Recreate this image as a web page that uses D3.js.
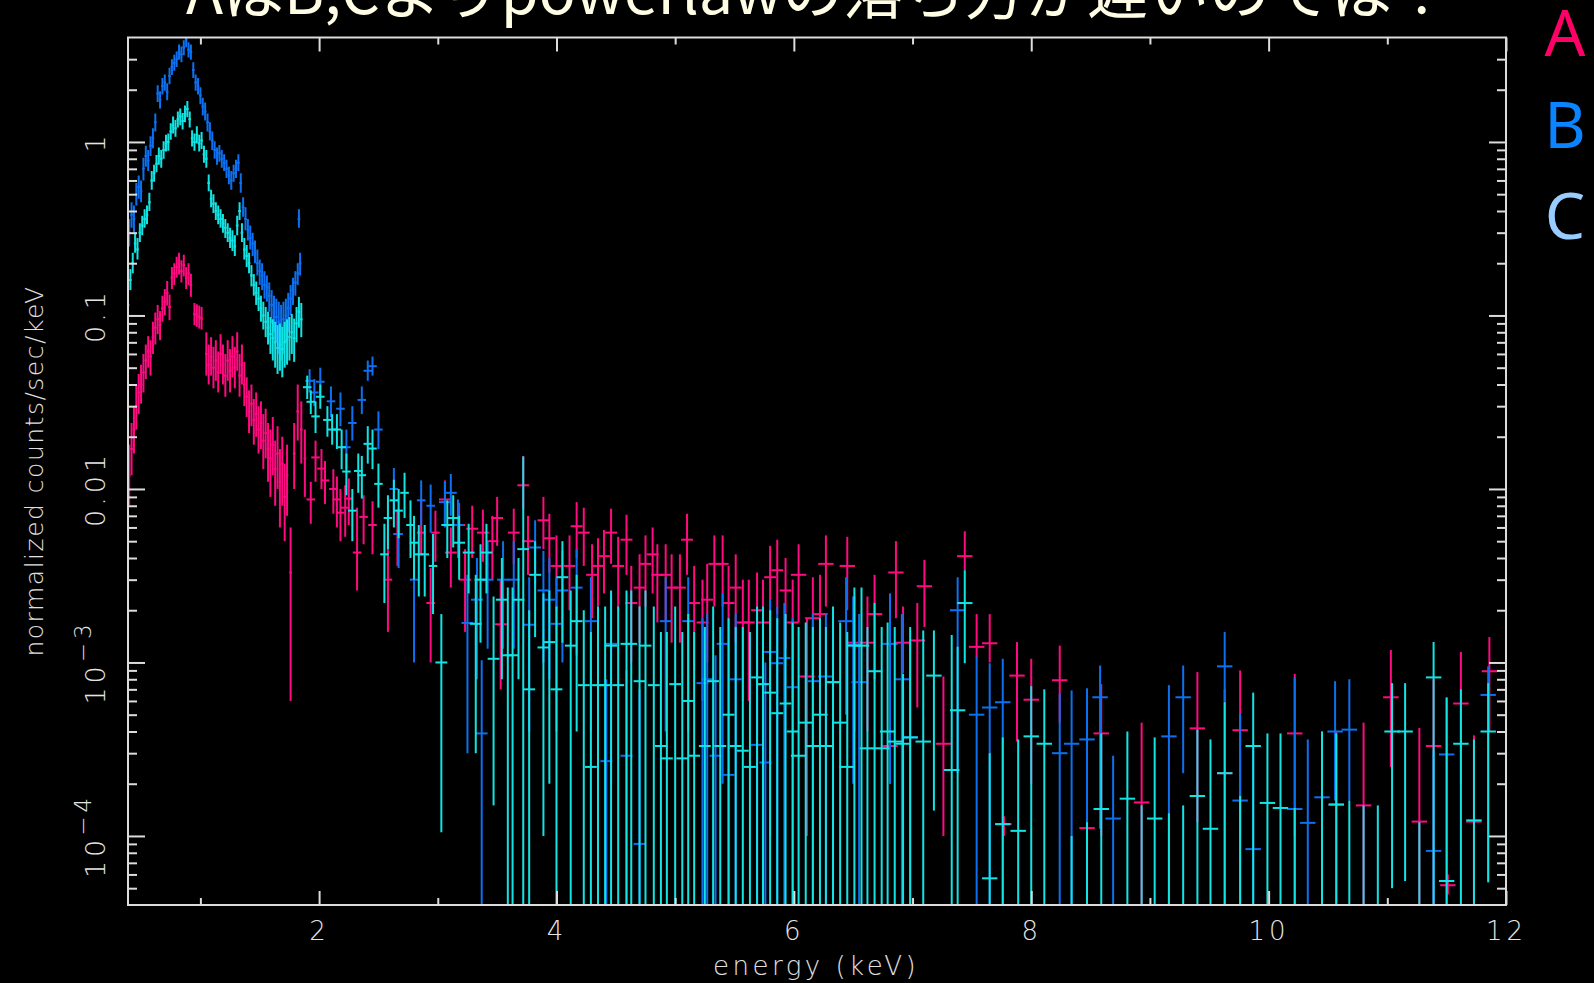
<!DOCTYPE html>
<meta charset="utf-8">
<style>
body { margin: 0; background: #000; }
svg { display: block; }
.axis text, .label { font-family: 'DejaVu Sans', 'Liberation Sans', sans-serif; font-weight: 200; }
</style>
<svg width="1594" height="983"></svg>
<script src="https://d3js.org/d3.v7.min.js"></script>
<script>

// spectra: [energy keV, normalized counts/s/keV, error low, error high]  (low 0 = bar runs off the bottom)
var seriesA = [
  [0.40,0.012,0.008,0.018],[0.42,0.017,0.012,0.024],[0.44,0.022,0.016,0.030],[0.46,0.030,0.022,0.040],
  [0.48,0.036,0.027,0.046],[0.50,0.040,0.031,0.052],[0.52,0.047,0.036,0.060],[0.54,0.055,0.043,0.068],
  [0.56,0.062,0.050,0.076],[0.58,0.058,0.045,0.072],[0.60,0.075,0.060,0.092],[0.62,0.085,0.068,0.104],
  [0.64,0.095,0.078,0.115],[0.66,0.088,0.072,0.106],[0.68,0.110,0.092,0.130],[0.70,0.120,0.100,0.142],
  [0.72,0.135,0.114,0.158],[0.74,0.112,0.094,0.132],[0.76,0.165,0.142,0.190],[0.78,0.175,0.150,0.200],
  [0.80,0.190,0.165,0.218],[0.82,0.200,0.172,0.230],[0.84,0.180,0.155,0.208],[0.86,0.195,0.168,0.224],
  [0.88,0.165,0.142,0.190],[0.90,0.175,0.150,0.200],[0.92,0.150,0.128,0.174],[0.95,0.102,0.088,0.118],
  [0.97,0.100,0.086,0.116],[0.99,0.098,0.084,0.114],[1.01,0.096,0.083,0.112],[1.05,0.060,0.045,0.080],
  [1.07,0.052,0.040,0.068],[1.09,0.058,0.045,0.075],[1.11,0.050,0.038,0.066],[1.13,0.055,0.042,0.072],
  [1.15,0.047,0.036,0.062],[1.17,0.060,0.046,0.078],[1.19,0.052,0.040,0.068],[1.21,0.045,0.034,0.060],
  [1.23,0.055,0.042,0.072],[1.25,0.048,0.036,0.064],[1.27,0.058,0.044,0.076],[1.29,0.050,0.038,0.066],
  [1.31,0.062,0.048,0.080],[1.33,0.045,0.034,0.060],[1.35,0.052,0.040,0.068],[1.37,0.040,0.030,0.054],
  [1.39,0.034,0.026,0.044],[1.41,0.028,0.021,0.037],[1.43,0.031,0.023,0.040],[1.45,0.025,0.018,0.033],
  [1.47,0.027,0.020,0.036],[1.49,0.022,0.016,0.030],[1.51,0.024,0.017,0.032],[1.53,0.019,0.013,0.027],
  [1.55,0.021,0.015,0.029],[1.57,0.017,0.011,0.024],[1.59,0.015,0.009,0.022],[1.61,0.018,0.012,0.026],
  [1.63,0.013,0.008,0.019],[1.65,0.016,0.010,0.023],[1.67,0.011,0.006,0.017],[1.69,0.014,0.008,0.020],
  [1.71,0.009,0.005,0.014],[1.73,0.012,0.007,0.018],[1.76,0.0033,0.0006,0.006],[1.79,0.016,0.010,0.024],
  [1.82,0.028,0.019,0.040],[1.85,0.022,0.014,0.032],[1.88,0.015,0.009,0.022],
  [1.93,0.0087,0.0063,0.011],[1.97,0.0152,0.011,0.019],[2.02,0.0131,0.010,0.017],[2.05,0.0112,0.0082,0.0145],
  [2.12,0.0100,0.0072,0.013],[2.15,0.0087,0.0060,0.0118],[2.18,0.0073,0.0050,0.010],[2.22,0.0078,0.0053,0.0105],
  [2.25,0.0088,0.0062,0.0115],[2.32,0.0043,0.0026,0.0078],[2.375,0.0069,0.0048,0.0092],[2.45,0.0062,0.0042,0.0085],
  [2.58,0.0030,0.0015,0.0054],[2.66,0.0055,0.0036,0.0076],[2.86,0.0056,0.0042,0.0088],[2.94,0.0022,0.0010,0.0035],
  [2.98,0.0056,0.0038,0.0075],[3.06,0.0087,0.0064,0.0112],[3.11,0.0043,0.0027,0.0060],[3.18,0.0062,0.0042,0.0083],
  [3.23,0.0030,0.0015,0.0045],[3.29,0.0059,0.0040,0.0080],[3.38,0.0056,0.0038,0.0076],[3.46,0.0050,0.0030,0.0070],
  [3.50,0.0068,0.0047,0.0090],[3.53,0.00166,0.0007,0.0030],[3.64,0.0056,0.0037,0.0077],[3.72,0.0105,0.0076,0.0155],
  [3.76,0.0050,0.0032,0.0070],[3.89,0.0066,0.0045,0.0090],[3.94,0.0052,0.0033,0.0072],[4.00,0.0036,0.0020,0.0054],
  [4.11,0.0036,0.0020,0.0054],[4.17,0.0061,0.0040,0.0084],[4.23,0.0056,0.0036,0.0078],[4.30,0.0032,0.0018,0.0048],
  [4.35,0.0036,0.0021,0.0052],[4.40,0.0041,0.0025,0.0058],[4.46,0.0056,0.0037,0.0077],[4.52,0.0036,0.0020,0.0053],
  [4.59,0.0051,0.0032,0.0071],[4.63,0.0022,0.0010,0.0036],[4.70,0.0027,0.0013,0.0042],[4.75,0.0037,0.0021,0.0054],
  [4.81,0.0042,0.0025,0.0060],[4.85,0.0032,0.0017,0.0048],[4.92,0.0032,0.0017,0.0048],[4.97,0.0027,0.0013,0.0042],
  [5.04,0.0027,0.0013,0.0042],[5.10,0.0051,0.0032,0.0072],[5.16,0.0022,0.0009,0.0036],[5.23,0.0017,0.0006,0.0030],
  [5.27,0.0023,0.0010,0.0037],[5.33,0.0037,0.0021,0.0054],[5.40,0.0037,0.0021,0.0054],[5.45,0.0022,0.0009,0.0036],
  [5.51,0.0027,0.0013,0.0042],[5.57,0.0017,0.0006,0.0030],[5.62,0.0017,0.0006,0.0030],[5.69,0.0020,0.0008,0.0033],
  [5.74,0.0017,0.0006,0.0030],[5.80,0.0031,0.0016,0.0047],[5.86,0.0034,0.0019,0.0051],[5.93,0.0026,0.0012,0.0040],
  [5.99,0.0017,0.0006,0.0030],[6.04,0.0032,0.0017,0.0048],[6.11,0.00083,0.0001,0.0018],[6.16,0.0018,0.0007,0.0031],
  [6.22,0.0019,0.0008,0.0032],[6.27,0.0037,0.0021,0.0054],[6.45,0.0036,0.0020,0.0053],[6.51,0.0013,0.0004,0.0024],
  [6.62,0.0013,0.0004,0.0024],[6.68,0.0019,0.0008,0.0032],[6.81,0.00033,0.0002,0.00045],[6.86,0.0033,0.0018,0.0050],
  [6.92,0.0013,0.00087,0.0021],[7.04,0.00134,0.00055,0.0022],[7.10,0.00275,0.0016,0.0039],[7.26,0.00034,0.0001,0.00083],
  [7.44,0.0041,0.0034,0.0057],[7.54,0.00123,0.00107,0.0019],[7.65,0.00129,0.0010,0.0019],[7.77,0.000117,0.0001,0.00013],
  [7.88,0.00084,0.00035,0.00131],[8.00,0.00061,0.0002,0.00105],[8.24,0.00079,0.00045,0.00125],[8.47,0.000111,0.00008,0.00014],
  [8.59,0.00039,0.0001,0.00075],[8.93,0.000156,0,0.00045],[9.40,0.000417,0.00012,0.00088],[9.63,0.00023,0,0.0007],
  [9.76,0.000407,0.0001,0.0009],[10.22,0.00039,0.0001,0.00086],[10.57,0.000151,0,0.0004],[10.80,0.00015,0,0.00045],
  [11.03,0.00063,0.00025,0.00118],[11.27,0.000121,0,0.00042],[11.39,0.00033,0,0.0008],[11.51,0.000052,0.000046,0.00006],
  [11.62,0.00058,0.0002,0.00115],[11.73,0.000121,0,0.00038],[11.86,0.00089,0.0004,0.0014]
];

var seriesB = [
  [0.40,0.30,0.25,0.36],[0.42,0.38,0.32,0.45],[0.44,0.36,0.30,0.43],[0.46,0.50,0.43,0.58],
  [0.48,0.55,0.47,0.64],[0.50,0.52,0.45,0.60],[0.52,0.70,0.60,0.81],[0.54,0.83,0.72,0.95],
  [0.56,0.78,0.68,0.90],[0.58,0.95,0.83,1.08],[0.60,1.05,0.92,1.20],[0.62,1.30,1.15,1.46],
  [0.64,1.90,1.70,2.12],[0.66,1.75,1.56,1.96],[0.68,2.10,1.88,2.34],[0.70,2.20,1.97,2.45],
  [0.72,1.95,1.74,2.18],[0.74,2.40,2.15,2.68],[0.76,2.70,2.43,3.00],[0.78,2.86,2.57,3.18],
  [0.80,3.00,2.70,3.32],[0.82,3.30,2.98,3.65],[0.84,3.20,2.88,3.55],[0.86,3.50,3.16,3.86],
  [0.88,3.90,3.52,4.30],[0.90,3.40,3.07,3.75],[0.92,3.30,2.98,3.65],[0.94,2.60,2.34,2.88],
  [0.96,2.20,1.97,2.45],[0.98,2.10,1.88,2.34],[1.00,1.85,1.65,2.07],[1.02,1.60,1.42,1.80],
  [1.04,1.50,1.33,1.69],[1.06,1.30,1.15,1.46],[1.08,1.15,1.02,1.30],[1.10,1.02,0.90,1.15],
  [1.12,0.90,0.80,1.01],[1.14,0.83,0.74,0.93],[1.16,0.86,0.77,0.96],[1.18,0.80,0.71,0.90],
  [1.20,0.76,0.68,0.85],[1.22,0.70,0.62,0.79],[1.24,0.64,0.57,0.72],[1.26,0.60,0.53,0.68],
  [1.28,0.66,0.59,0.74],[1.30,0.70,0.62,0.79],[1.32,0.76,0.68,0.85],[1.34,0.58,0.51,0.66],
  [1.36,0.42,0.37,0.48],[1.38,0.36,0.31,0.42],[1.40,0.31,0.27,0.36],[1.42,0.28,0.24,0.33],
  [1.44,0.26,0.22,0.30],[1.46,0.23,0.20,0.27],[1.48,0.20,0.17,0.24],[1.50,0.18,0.15,0.21],
  [1.52,0.17,0.14,0.20],[1.54,0.15,0.125,0.18],[1.56,0.145,0.12,0.17],[1.58,0.13,0.105,0.155],
  [1.60,0.115,0.09,0.14],[1.62,0.105,0.08,0.13],[1.64,0.098,0.07,0.125],[1.66,0.092,0.06,0.12],
  [1.68,0.088,0.055,0.115],[1.70,0.095,0.06,0.12],[1.72,0.100,0.07,0.125],[1.74,0.110,0.08,0.135],
  [1.76,0.125,0.10,0.15],[1.78,0.140,0.115,0.165],[1.80,0.155,0.13,0.18],[1.82,0.175,0.15,0.20],
  [1.83,0.36,0.32,0.41],[1.84,0.20,0.17,0.23],[1.92,0.042,0.036,0.049],[1.96,0.036,0.030,0.043],
  [2.01,0.0415,0.034,0.050],[2.10,0.032,0.026,0.039],[2.18,0.029,0.023,0.036],[2.23,0.0174,0.013,0.022],
  [2.28,0.024,0.019,0.030],[2.36,0.0326,0.027,0.039],[2.41,0.048,0.042,0.055],[2.45,0.051,0.045,0.058],
  [2.50,0.022,0.017,0.028],[2.63,0.010,0.0072,0.0132],[2.67,0.0055,0.0035,0.0077],[2.80,0.0030,0.0010,0.0052],
  [2.86,0.0086,0.0062,0.0112],[2.94,0.0080,0.0056,0.0106],[3.06,0.0084,0.0060,0.011],[3.11,0.0095,0.0070,0.0122],
  [3.17,0.0062,0.0040,0.0087],[3.25,0.00169,0.0003,0.0032],[3.33,0.0023,0.0008,0.0040],[3.37,0.00039,0,0.00103],
  [3.42,0.0030,0.0012,0.0050],[3.55,0.0030,0.0012,0.0050],[3.64,0.0030,0.0012,0.0050],[3.77,0.00165,0.0004,0.0031],
  [3.82,0.0046,0.0028,0.0066],[3.89,0.0026,0.0010,0.0044],[3.94,0.0023,0.0008,0.0040],[4.00,0.00167,0.0004,0.0031],
  [4.05,0.0026,0.0010,0.0044],[4.17,0.0027,0.0011,0.0045],[4.29,0.00173,0.0004,0.0031],[4.42,0.00027,0,0.0008],
  [4.46,0.00128,0.0002,0.0025],[4.59,0.00029,0,0.0009],[4.70,0.00009,0,0.0007],[4.92,0.00173,0.0004,0.0031],
  [5.11,0.00173,0.0004,0.0031],[5.23,0.00076,0,0.0018],[5.27,0.00080,0,0.0019],[5.34,0.00029,0,0.0011],
  [5.40,0.00128,0.0002,0.0025],[5.45,0.000225,0,0.0009],[5.51,0.00080,0,0.0019],[5.69,0.000335,0,0.0012],
  [5.76,0.000265,0,0.0010],[5.80,0.00115,0.0001,0.0023],[5.86,0.00099,0,0.0021],[5.92,0.00106,0,0.0022],
  [5.99,0.00072,0,0.0018],[6.16,0.00078,0,0.0019],[6.27,0.00083,0,0.0019],[6.33,0.00077,0,0.0019],
  [6.44,0.00173,0.0005,0.0031],[6.50,0.00126,0.0002,0.0024],[6.55,0.00077,0,0.0019],[6.81,0.00128,0.0002,0.0025],
  [6.91,0.00080,0,0.0019],[6.98,0.00037,0,0.0013],[7.38,0.0020,0.00023,0.0031],[7.54,0.00050,0,0.00108],
  [7.65,0.00055,0,0.00099],[7.76,0.00059,0,0.00105],[8.24,0.00030,0.00004,0.00066],[8.34,0.00034,0,0.00069],
  [8.47,0.00036,0,0.00071],[8.58,0.00063,0.00011,0.00096],[8.69,0.000126,0,0.00029],[9.16,0.000375,0,0.00074],
  [9.28,0.00063,0.00023,0.00096],[9.63,0.00095,0.00060,0.0015],[9.76,0.00016,0,0.00051],[9.87,0.000084,0,0.000325],
  [10.22,0.000143,0,0.00082],[10.33,0.000119,0,0.00036],[10.45,0.000167,0,0.00040],[10.56,0.00040,0.00016,0.00078],
  [10.68,0.00041,0.00016,0.00080],[11.39,0.000082,0,0.00031],[11.50,0.000295,0,0.00062],[11.85,0.00065,0.000055,0.00095]
];

var seriesC = [
  [0.39,0.115,0.098,0.135],[0.41,0.16,0.14,0.185],[0.43,0.20,0.175,0.23],[0.45,0.26,0.23,0.30],
  [0.47,0.24,0.21,0.28],[0.49,0.30,0.265,0.34],[0.51,0.33,0.29,0.375],[0.53,0.36,0.32,0.41],
  [0.55,0.38,0.335,0.43],[0.57,0.45,0.40,0.51],[0.59,0.60,0.53,0.68],[0.61,0.66,0.59,0.74],
  [0.63,0.75,0.67,0.84],[0.65,0.83,0.74,0.93],[0.67,0.80,0.71,0.90],[0.69,0.90,0.80,1.01],
  [0.71,0.98,0.88,1.10],[0.73,1.00,0.89,1.12],[0.75,1.15,1.03,1.28],[0.77,1.25,1.12,1.40],
  [0.79,1.20,1.07,1.34],[0.81,1.35,1.21,1.50],[0.83,1.40,1.25,1.56],[0.85,1.32,1.18,1.47],
  [0.87,1.45,1.30,1.62],[0.89,1.55,1.39,1.72],[0.91,1.35,1.21,1.50],[0.93,1.05,0.94,1.17],
  [0.95,1.00,0.89,1.12],[0.97,1.10,0.98,1.23],[0.99,0.98,0.88,1.10],[1.01,1.02,0.91,1.14],
  [1.03,0.85,0.76,0.95],[1.05,0.80,0.71,0.90],[1.07,0.58,0.52,0.65],[1.09,0.47,0.42,0.53],
  [1.11,0.44,0.39,0.50],[1.13,0.40,0.355,0.45],[1.15,0.38,0.335,0.43],[1.17,0.36,0.32,0.41],
  [1.19,0.34,0.30,0.385],[1.21,0.32,0.28,0.36],[1.23,0.30,0.265,0.34],[1.25,0.28,0.245,0.32],
  [1.27,0.27,0.235,0.31],[1.29,0.25,0.22,0.29],[1.31,0.33,0.29,0.375],[1.33,0.40,0.355,0.45],
  [1.35,0.30,0.265,0.34],[1.37,0.24,0.21,0.28],[1.39,0.22,0.19,0.255],[1.41,0.20,0.175,0.23],
  [1.43,0.17,0.147,0.195],[1.45,0.15,0.13,0.173],[1.47,0.135,0.115,0.157],[1.49,0.125,0.106,0.146],
  [1.51,0.110,0.092,0.130],[1.53,0.100,0.083,0.120],[1.55,0.092,0.075,0.112],[1.57,0.085,0.068,0.105],
  [1.59,0.078,0.060,0.098],[1.61,0.074,0.055,0.095],[1.63,0.070,0.050,0.092],[1.65,0.065,0.046,0.088],
  [1.67,0.068,0.048,0.090],[1.69,0.064,0.044,0.086],[1.71,0.070,0.050,0.092],[1.73,0.072,0.052,0.095],
  [1.75,0.075,0.055,0.098],[1.77,0.080,0.060,0.102],[1.79,0.074,0.054,0.096],[1.81,0.090,0.070,0.112],
  [1.83,0.105,0.085,0.128],[1.85,0.095,0.075,0.118],
  [1.90,0.0386,0.033,0.045],[1.93,0.0318,0.027,0.037],[1.97,0.0262,0.021,0.032],[2.01,0.034,0.029,0.040],
  [2.07,0.025,0.020,0.030],[2.11,0.022,0.018,0.027],[2.15,0.022,0.017,0.027],[2.19,0.0174,0.013,0.022],
  [2.23,0.0126,0.0092,0.016],[2.28,0.0075,0.0050,0.010],[2.33,0.0127,0.0095,0.016],[2.36,0.012,0.0088,0.0155],
  [2.41,0.0182,0.014,0.023],[2.45,0.0171,0.013,0.022],[2.50,0.0107,0.0078,0.014],[2.55,0.0042,0.0022,0.0063],
  [2.58,0.0068,0.0045,0.0092],[2.63,0.0086,0.0060,0.0113],[2.67,0.0075,0.0052,0.0100],[2.72,0.0095,0.0068,0.0124],
  [2.77,0.0062,0.0040,0.0086],[2.80,0.0049,0.0030,0.0070],[2.84,0.0042,0.0024,0.0062],[2.89,0.0042,0.0024,0.0062],
  [2.96,0.0036,0.0019,0.0055],[3.03,0.0010,0.000105,0.0019],[3.08,0.0062,0.0040,0.0086],[3.13,0.0068,0.0046,0.0092],
  [3.18,0.0049,0.0030,0.0070],[3.26,0.0043,0.0025,0.0063],[3.32,0.00167,0.0003,0.0032],[3.36,0.0030,0.0013,0.0048],
  [3.41,0.0043,0.0025,0.0063],[3.47,0.00105,0.00015,0.0024],[3.54,0.0023,0.0008,0.0040],[3.59,0.0011,0,0.0027],
  [3.63,0.0011,0,0.0027],[3.68,0.0023,0.0008,0.0040],[3.72,0.0045,0,0.0154],[3.77,0.0007,0,0.0020],
  [3.82,0.0032,0.0014,0.0050],[3.89,0.00122,0.0001,0.0025],[3.94,0.00131,0.0002,0.0026],[4.00,0.0007,0,0.0021],
  [4.05,0.0031,0.0013,0.0050],[4.12,0.00125,0,0.0026],[4.17,0.00173,0.0004,0.0032],[4.23,0.00074,0,0.0020],
  [4.29,0.00025,0,0.0015],[4.35,0.00074,0,0.0021],[4.41,0.00074,0,0.0021],[4.46,0.00125,0,0.0026],
  [4.52,0.00074,0,0.0021],[4.59,0.00128,0,0.0026],[4.63,0.00128,0,0.0026],[4.70,0.00078,0,0.0021],
  [4.75,0.00125,0,0.0026],[4.82,0.00074,0,0.0021],[4.88,0.00033,0,0.0015],[4.93,0.00028,0,0.0015],
  [5.00,0.00075,0,0.0021],[5.06,0.00028,0,0.0015],[5.11,0.00060,0,0.0019],[5.16,0.00029,0,0.0015],
  [5.25,0.00033,0,0.0016],[5.32,0.00078,0,0.0021],[5.38,0.00033,0,0.0016],[5.45,0.00050,0,0.0018],
  [5.51,0.00033,0,0.0016],[5.57,0.00031,0,0.0016],[5.63,0.00025,0,0.0015],[5.69,0.00082,0,0.0021],
  [5.74,0.00075,0,0.0021],[5.80,0.00067,0,0.0020],[5.86,0.00051,0,0.0018],[5.93,0.00058,0,0.0019],
  [5.99,0.00040,0,0.0017],[6.04,0.00029,0,0.0016],[6.10,0.00045,0,0.0017],[6.16,0.00033,0,0.0016],
  [6.22,0.00050,0,0.0018],[6.27,0.00033,0,0.0016],[6.33,0.00077,0,0.0021],[6.39,0.00045,0,0.0017],
  [6.45,0.00025,0,0.0015],[6.51,0.00125,0,0.0027],[6.57,0.00125,0,0.0027],[6.62,0.00032,0,0.0016],
  [6.68,0.00089,0,0.0022],[6.74,0.00032,0,0.0016],[6.79,0.00040,0,0.0017],[6.85,0.00035,0,0.0016],
  [6.92,0.00034,0,0.00086],[6.98,0.00037,0,0.0016],[7.09,0.00035,0,0.00153],[7.18,0.00084,0.00014,0.00153],
  [7.33,0.00024,0,0.00144],[7.38,0.00053,0,0.00123],[7.44,0.0022,0.00099,0.0034],[7.65,0.000057,0,0.00030],
  [7.76,0.000117,0,0.00037],[7.89,0.000107,0,0.00036],[8.00,0.000375,0,0.00073],[8.11,0.00034,0,0.00070],
  [8.34,0.00002,0,0.00010],[8.47,0.00002,0,0.00012],[8.59,0.000143,0,0.00039],[8.81,0.000164,0,0.00040],
  [8.93,0.00002,0,0.00015],[9.04,0.000126,0,0.00037],[9.16,0.00002,0,0.000135],[9.28,0.00002,0,0.00015],
  [9.40,0.00017,0,0.00041],[9.51,0.00011,0,0.00036],[9.63,0.00023,0,0.00059],[9.76,0.00002,0,0.00017],
  [9.87,0.00033,0,0.00067],[9.99,0.000155,0,0.00039],[10.10,0.000145,0,0.00039],[10.22,0.00002,0,0.000145],
  [10.45,0.00002,0,0.00040],[10.57,0.000152,0,0.00039],[10.68,0.00002,0,0.00016],[10.80,0.00002,0,0.00015],
  [10.92,0.00002,0,0.00015],[11.04,0.00040,0.00005,0.00076],[11.15,0.00040,0.000055,0.00076],[11.27,0.00002,0,0.00012],
  [11.39,0.00082,0,0.00131],[11.50,0.000055,0,0.00063],[11.62,0.00034,0,0.00070],[11.73,0.000123,0,0.00036],
  [11.85,0.00040,0.000054,0.00076]
];

// grouping: bin half-width (keV) changes at these energies
var binLimits = [1.89, 3.0, 6.0];
var binHalfWidths = [0.011, 0.036, 0.05, 0.065];

var seriesNames = ["A", "B", "C"];
var seriesColors = ["#ff0a80", "#0c70f0", "#12e4e4"];
var legendColors = ["#ff0066", "#0a84ff", "#99ccff"];

var energyRange = [0.39, 12];
var countRange = [4e-5, 4];
var xMajorTicks = [2, 4, 6, 8, 10, 12];
var xMinorTicks = [1, 3, 5, 7, 9, 11];
var yDecades = [1e-4, 1e-3, 0.01, 0.1, 1];
var yTickLabels = ["10^-4", "10^-3", "0.01", "0.1", "1"];

var titleText = "AはB,Cよりpowerlawの落ち方が遅いのでは？";
var xTitle = "energy (keV)";
var yTitle = "normalized counts/sec/keV";

var svg = d3.select("svg");
svg.append("rect").attr("width", 1594).attr("height", 983).attr("fill", "#000");

var margin = {top: 37.5, right: 88, bottom: 78, left: 128},
    width = 1594 - margin.left - margin.right,
    height = 983 - margin.top - margin.bottom;

var g = svg.append("g")
    .attr("transform", "translate(" + margin.left + "," + margin.top + ")");

var x = d3.scaleLinear().domain(energyRange).range([0, width]);
var y = d3.scaleLog().domain(countRange).range([height, 0]);

g.append("clipPath").attr("id", "plotClip")
  .append("rect").attr("width", width).attr("height", height);

function halfWidth(e) {
    return binHalfWidths[d3.bisectRight(binLimits, e)];
}

function drawSeries(rows, color) {
    var s = g.append("g")
        .attr("clip-path", "url(#plotClip)")
        .attr("stroke", color)
        .attr("stroke-width", 2);

    s.selectAll("line.err")
        .data(rows)
        .enter().append("line")
        .attr("class", "err")
        .attr("x1", function(d) { return x(d[0]); })
        .attr("x2", function(d) { return x(d[0]); })
        .attr("y1", function(d) { return d[2] > countRange[0] ? y(d[2]) : height; })
        .attr("y2", function(d) { return y(Math.min(d[3], countRange[1] * 1.2)); });

    s.selectAll("line.bin")
        .data(rows.filter(function(d) { return d[1] >= countRange[0]; }))
        .enter().append("line")
        .attr("class", "bin")
        .attr("x1", function(d) { return x(d[0] - halfWidth(d[0])); })
        .attr("x2", function(d) { return x(d[0] + halfWidth(d[0])); })
        .attr("y1", function(d) { return y(d[1]); })
        .attr("y2", function(d) { return y(d[1]); });
}

drawSeries(seriesA, seriesColors[0]);
drawSeries(seriesB, seriesColors[1]);
drawSeries(seriesC, seriesColors[2]);

// axes: ticks point inward, all four sides
var axisColor = "#dcdcdc";

function styleAxis(sel) {
    sel.select(".domain").remove();
    sel.attr("color", axisColor)
       .attr("font-family", null)
       .attr("font-size", 26);
    sel.selectAll("line").attr("stroke-width", 2);
    sel.selectAll("text").attr("fill", "#e4e4e4").attr("letter-spacing", 4);
}

g.append("g").attr("class", "axis")
    .attr("transform", "translate(0," + height + ")")
    .call(d3.axisBottom(x).tickValues(xMajorTicks).tickSize(-14).tickPadding(17).tickFormat(d3.format("d")))
    .call(styleAxis);
g.append("g").attr("class", "axis")
    .attr("transform", "translate(0," + height + ")")
    .call(d3.axisBottom(x).tickValues(xMinorTicks).tickSize(-7).tickFormat(""))
    .call(styleAxis);
g.append("g").attr("class", "axis")
    .call(d3.axisTop(x).tickValues(xMajorTicks).tickSize(-14).tickFormat(""))
    .call(styleAxis);
g.append("g").attr("class", "axis")
    .call(d3.axisTop(x).tickValues(xMinorTicks).tickSize(-7).tickFormat(""))
    .call(styleAxis);

var yMinor = [];
[-5, -4, -3, -2, -1, 0].forEach(function(p) {
    [2, 3, 4, 5, 6, 7, 8, 9].forEach(function(m) {
        var v = m * Math.pow(10, p);
        if (v > countRange[0] && v < countRange[1]) yMinor.push(v);
    });
});

[[d3.axisLeft, 0], [d3.axisRight, width]].forEach(function(a) {
    g.append("g").attr("class", "axis")
        .attr("transform", "translate(" + a[1] + ",0)")
        .call(a[0](y).tickValues(yDecades).tickSize(-17).tickFormat(""))
        .call(styleAxis);
    g.append("g").attr("class", "axis")
        .attr("transform", "translate(" + a[1] + ",0)")
        .call(a[0](y).tickValues(yMinor).tickSize(-9).tickFormat(""))
        .call(styleAxis);
});

g.append("rect")
    .attr("width", width).attr("height", height)
    .attr("fill", "none").attr("stroke", axisColor).attr("stroke-width", 2);

// rotated y tick labels, with exponent as superscript
var ylab = g.selectAll("text.ytick")
    .data(yDecades)
    .enter().append("text")
    .attr("class", "label")
    .attr("transform", function(d) { return "translate(-23," + y(d) + ") rotate(-90)"; })
    .attr("text-anchor", "middle")
    .attr("font-size", 27)
    .attr("letter-spacing", 4)
    .attr("fill", "#e4e4e4");

ylab.each(function(d, i) {
    var parts = yTickLabels[i].split("^");
    var t = d3.select(this);
    t.append("tspan").text(parts[0]);
    if (parts.length > 1) {
        t.append("tspan").attr("dy", "-0.6em").attr("font-size", 23)
            .text(parts[1].replace("-", "\u2212"));
    }
});

svg.append("text").attr("class", "label")
    .attr("x", 816).attr("y", 975)
    .attr("text-anchor", "middle")
    .attr("font-size", 26).attr("letter-spacing", 3.5)
    .attr("fill", "#e0e0e0")
    .text(xTitle);

svg.append("text").attr("class", "label")
    .attr("transform", "translate(43,471) rotate(-90)")
    .attr("text-anchor", "middle")
    .attr("font-size", 25).attr("letter-spacing", 1.5)
    .attr("fill", "#e0e0e0")
    .text(yTitle);

// slide title, cut at the top edge
svg.append("text")
    .attr("x", 186).attr("y", 14)
    .attr("font-family", "'Noto Sans CJK JP', sans-serif")
    .attr("font-size", 61)
    .attr("fill", "#fffde3")
    .text(titleText);

svg.selectAll("text.legend")
    .data(seriesNames)
    .enter().append("text")
    .attr("class", "legend")
    .attr("x", 1565)
    .attr("y", function(d, i) { return 56 + i * 91.5; })
    .attr("text-anchor", "middle")
    .attr("font-family", "'Noto Sans', sans-serif")
    .attr("font-size", 64)
    .attr("fill", function(d, i) { return legendColors[i]; })
    .text(function(d) { return d; });

</script>
